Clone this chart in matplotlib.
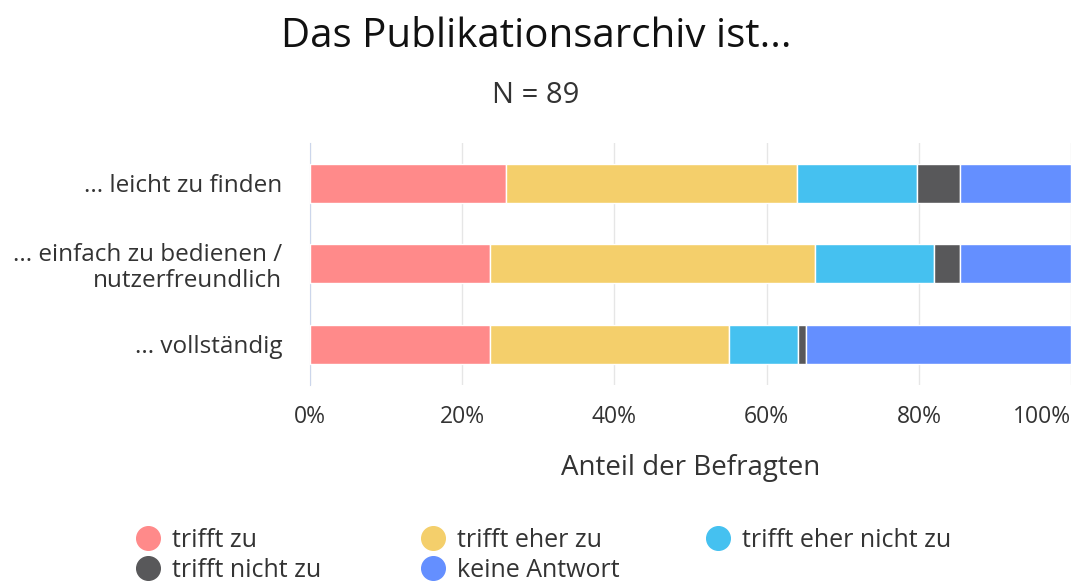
import numpy as np
import matplotlib
matplotlib.use("Agg")
import matplotlib.pyplot as plt
from matplotlib.lines import Line2D

plt.rcParams['font.family'] = ['Open Sans', 'DejaVu Sans']

# Anteile in Prozent (N = 89)
categories = ['... leicht zu finden', '... einfach zu bedienen /\nnutzerfreundlich', '... vollständig']
series = ['trifft zu', 'trifft eher zu', 'trifft eher nicht zu', 'trifft nicht zu', 'keine Antwort']
trifft_zu = [25.8, 23.6, 23.6]
trifft_eher_zu = [38.2, 42.7, 31.5]
trifft_eher_nicht_zu = [15.7, 15.7, 9.0]
trifft_nicht_zu = [5.6, 3.4, 1.1]
keine_antwort = [14.6, 14.6, 34.8]
colors = ['#ff8a8a', '#f4cf6b', '#45c1f0', '#58585a', '#648fff']

values = [trifft_zu, trifft_eher_zu, trifft_eher_nicht_zu, trifft_nicht_zu, keine_antwort]

fig = plt.figure(figsize=(10.72, 5.81), dpi=100)
ax = fig.add_axes([0.289, 0.338, 0.7105, 0.416])

y = np.arange(len(categories))
left = np.zeros(len(categories))
for vals, col, name in zip(values, colors, series):
    ax.barh(y, vals, left=left, height=0.48, color=col, edgecolor='white', linewidth=1, label=name, zorder=3)
    left += np.array(vals)

ax.set_ylim(2.5, -0.5)
ax.set_xlim(0, 100)
ax.set_xticks([0, 20, 40, 60, 80, 100])
ax.set_xticklabels(['0%', '20%', '40%', '60%', '80%', '100%'])
ax.get_xticklabels()[-1].set_horizontalalignment('right')
ax.set_yticks(y)
ax.set_yticklabels(categories, linespacing=1.1)
ax.grid(axis='x', color='#e6e6e6', linewidth=1, zorder=0)
for s in ['top', 'right', 'bottom']:
    ax.spines[s].set_visible(False)
ax.spines['left'].set_color('#ccd6eb')
ax.tick_params(axis='x', length=0, pad=15, labelsize=16.5, labelcolor='#333333')
ax.tick_params(axis='y', length=0, pad=20, labelsize=17.5, labelcolor='#333333')
ax.set_xlabel('Anteil der Befragten', fontsize=20, color='#333333', labelpad=18)

fig.text(0.5, 0.936, 'Das Publikationsarchiv ist...', ha='center', va='center', fontsize=29, color='#111111')
fig.text(0.5, 0.836, 'N = 89', ha='center', va='center', fontsize=21, color='#333333')

# legend: three fixed-width columns, filled row by row
handles = [Line2D([], [], marker='o', linestyle='none', markersize=17, color=c) for c in colors]
col_x = [0.124, 0.390, 0.656]
for k, x0 in enumerate(col_x):
    idx = list(range(k, len(series), 3))
    fig.legend([handles[i] for i in idx], [series[i] for i in idx],
               loc='upper left', bbox_to_anchor=(x0, 0.091), frameon=False, fontsize=18,
               handlelength=1.2, handletextpad=0.36, labelspacing=0.2,
               borderaxespad=0, borderpad=0, labelcolor='#333333')

fig.savefig('out.png', dpi=100)
